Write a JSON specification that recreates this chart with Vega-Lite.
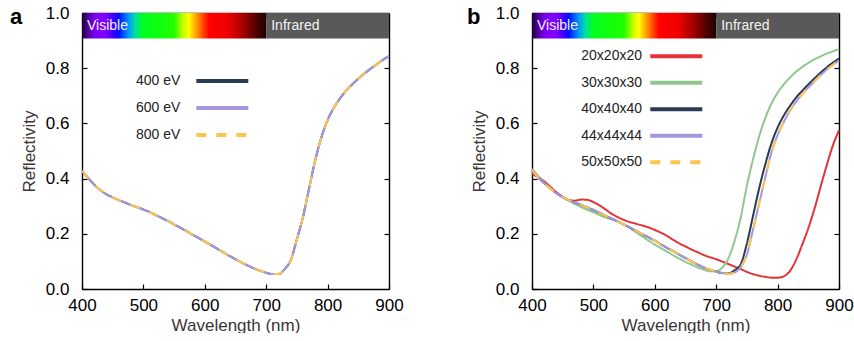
{
  "$schema": "https://vega.github.io/schema/vega-lite/v6.json",
  "background": "white",
  "padding": {"left": 10, "top": 4, "right": 0, "bottom": 0},
  "config": {
    "font": "Liberation Sans",
    "view": {"stroke": null},
    "axis": {"grid": false, "domainColor": "#000", "domainWidth": 1.4, "tickColor": "#000", "tickWidth": 1.2, "tickSize": -5, "labelFont": "Liberation Sans", "labelFontSize": 17, "labelColor": "#000", "titleFont": "Liberation Sans", "titleFontSize": 17, "titleFontWeight": "normal", "titleColor": "#3b3535", "zindex": 1}
  },
  "datasets": {
    "bands": [
      {"band": "Visible", "start": 400, "end": 700},
      {"band": "Infrared", "start": 700, "end": 900}
    ],
    "a": [
      {"wl": 400, "400 eV": 0.428, "600 eV": 0.428, "800 eV": 0.428},
      {"wl": 410, "400 eV": 0.402, "600 eV": 0.402, "800 eV": 0.402},
      {"wl": 420, "400 eV": 0.378, "600 eV": 0.378, "800 eV": 0.378},
      {"wl": 430, "400 eV": 0.358, "600 eV": 0.358, "800 eV": 0.358},
      {"wl": 440, "400 eV": 0.343, "600 eV": 0.343, "800 eV": 0.343},
      {"wl": 450, "400 eV": 0.332, "600 eV": 0.332, "800 eV": 0.332},
      {"wl": 460, "400 eV": 0.322, "600 eV": 0.322, "800 eV": 0.322},
      {"wl": 470, "400 eV": 0.313, "600 eV": 0.313, "800 eV": 0.313},
      {"wl": 480, "400 eV": 0.304, "600 eV": 0.304, "800 eV": 0.304},
      {"wl": 490, "400 eV": 0.296, "600 eV": 0.296, "800 eV": 0.296},
      {"wl": 500, "400 eV": 0.288, "600 eV": 0.288, "800 eV": 0.288},
      {"wl": 510, "400 eV": 0.279, "600 eV": 0.279, "800 eV": 0.279},
      {"wl": 520, "400 eV": 0.268, "600 eV": 0.268, "800 eV": 0.268},
      {"wl": 530, "400 eV": 0.257, "600 eV": 0.257, "800 eV": 0.257},
      {"wl": 540, "400 eV": 0.246, "600 eV": 0.246, "800 eV": 0.246},
      {"wl": 550, "400 eV": 0.234, "600 eV": 0.234, "800 eV": 0.234},
      {"wl": 560, "400 eV": 0.222, "600 eV": 0.222, "800 eV": 0.222},
      {"wl": 570, "400 eV": 0.210, "600 eV": 0.210, "800 eV": 0.210},
      {"wl": 580, "400 eV": 0.197, "600 eV": 0.197, "800 eV": 0.197},
      {"wl": 590, "400 eV": 0.185, "600 eV": 0.185, "800 eV": 0.185},
      {"wl": 600, "400 eV": 0.172, "600 eV": 0.172, "800 eV": 0.172},
      {"wl": 610, "400 eV": 0.159, "600 eV": 0.159, "800 eV": 0.159},
      {"wl": 620, "400 eV": 0.146, "600 eV": 0.146, "800 eV": 0.146},
      {"wl": 630, "400 eV": 0.133, "600 eV": 0.133, "800 eV": 0.133},
      {"wl": 640, "400 eV": 0.120, "600 eV": 0.120, "800 eV": 0.120},
      {"wl": 650, "400 eV": 0.108, "600 eV": 0.108, "800 eV": 0.108},
      {"wl": 660, "400 eV": 0.096, "600 eV": 0.096, "800 eV": 0.096},
      {"wl": 670, "400 eV": 0.085, "600 eV": 0.085, "800 eV": 0.085},
      {"wl": 680, "400 eV": 0.075, "600 eV": 0.075, "800 eV": 0.075},
      {"wl": 690, "400 eV": 0.066, "600 eV": 0.066, "800 eV": 0.066},
      {"wl": 700, "400 eV": 0.059, "600 eV": 0.059, "800 eV": 0.059},
      {"wl": 710, "400 eV": 0.054, "600 eV": 0.054, "800 eV": 0.054},
      {"wl": 720, "400 eV": 0.054, "600 eV": 0.054, "800 eV": 0.054},
      {"wl": 730, "400 eV": 0.072, "600 eV": 0.072, "800 eV": 0.072},
      {"wl": 740, "400 eV": 0.105, "600 eV": 0.105, "800 eV": 0.105},
      {"wl": 750, "400 eV": 0.180, "600 eV": 0.180, "800 eV": 0.180},
      {"wl": 760, "400 eV": 0.262, "600 eV": 0.262, "800 eV": 0.262},
      {"wl": 770, "400 eV": 0.366, "600 eV": 0.366, "800 eV": 0.366},
      {"wl": 780, "400 eV": 0.468, "600 eV": 0.468, "800 eV": 0.468},
      {"wl": 790, "400 eV": 0.550, "600 eV": 0.550, "800 eV": 0.550},
      {"wl": 800, "400 eV": 0.612, "600 eV": 0.612, "800 eV": 0.612},
      {"wl": 810, "400 eV": 0.656, "600 eV": 0.656, "800 eV": 0.656},
      {"wl": 820, "400 eV": 0.690, "600 eV": 0.690, "800 eV": 0.690},
      {"wl": 830, "400 eV": 0.718, "600 eV": 0.718, "800 eV": 0.718},
      {"wl": 840, "400 eV": 0.741, "600 eV": 0.741, "800 eV": 0.741},
      {"wl": 850, "400 eV": 0.762, "600 eV": 0.762, "800 eV": 0.762},
      {"wl": 860, "400 eV": 0.781, "600 eV": 0.781, "800 eV": 0.781},
      {"wl": 870, "400 eV": 0.798, "600 eV": 0.798, "800 eV": 0.798},
      {"wl": 880, "400 eV": 0.814, "600 eV": 0.814, "800 eV": 0.814},
      {"wl": 890, "400 eV": 0.830, "600 eV": 0.830, "800 eV": 0.830},
      {"wl": 900, "400 eV": 0.844, "600 eV": 0.844, "800 eV": 0.844}
    ],
    "b": [
      {"wl": 400, "20x20x20": 0.417, "30x30x30": 0.435, "40x40x40": 0.430, "44x44x44": 0.430, "50x50x50": 0.430},
      {"wl": 410, "20x20x20": 0.405, "30x30x30": 0.410, "40x40x40": 0.405, "44x44x44": 0.405, "50x50x50": 0.405},
      {"wl": 420, "20x20x20": 0.390, "30x30x30": 0.386, "40x40x40": 0.383, "44x44x44": 0.383, "50x50x50": 0.383},
      {"wl": 430, "20x20x20": 0.370, "30x30x30": 0.365, "40x40x40": 0.364, "44x44x44": 0.364, "50x50x50": 0.364},
      {"wl": 440, "20x20x20": 0.350, "30x30x30": 0.347, "40x40x40": 0.347, "44x44x44": 0.347, "50x50x50": 0.347},
      {"wl": 450, "20x20x20": 0.334, "30x30x30": 0.332, "40x40x40": 0.333, "44x44x44": 0.333, "50x50x50": 0.333},
      {"wl": 460, "20x20x20": 0.322, "30x30x30": 0.320, "40x40x40": 0.322, "44x44x44": 0.322, "50x50x50": 0.322},
      {"wl": 470, "20x20x20": 0.320, "30x30x30": 0.308, "40x40x40": 0.313, "44x44x44": 0.313, "50x50x50": 0.313},
      {"wl": 480, "20x20x20": 0.324, "30x30x30": 0.297, "40x40x40": 0.305, "44x44x44": 0.305, "50x50x50": 0.305},
      {"wl": 490, "20x20x20": 0.323, "30x30x30": 0.287, "40x40x40": 0.296, "44x44x44": 0.296, "50x50x50": 0.296},
      {"wl": 500, "20x20x20": 0.315, "30x30x30": 0.278, "40x40x40": 0.286, "44x44x44": 0.286, "50x50x50": 0.286},
      {"wl": 510, "20x20x20": 0.303, "30x30x30": 0.268, "40x40x40": 0.276, "44x44x44": 0.276, "50x50x50": 0.276},
      {"wl": 520, "20x20x20": 0.288, "30x30x30": 0.259, "40x40x40": 0.265, "44x44x44": 0.265, "50x50x50": 0.265},
      {"wl": 530, "20x20x20": 0.272, "30x30x30": 0.252, "40x40x40": 0.255, "44x44x44": 0.255, "50x50x50": 0.255},
      {"wl": 540, "20x20x20": 0.260, "30x30x30": 0.244, "40x40x40": 0.245, "44x44x44": 0.245, "50x50x50": 0.245},
      {"wl": 550, "20x20x20": 0.250, "30x30x30": 0.234, "40x40x40": 0.233, "44x44x44": 0.233, "50x50x50": 0.233},
      {"wl": 560, "20x20x20": 0.242, "30x30x30": 0.220, "40x40x40": 0.222, "44x44x44": 0.222, "50x50x50": 0.222},
      {"wl": 570, "20x20x20": 0.236, "30x30x30": 0.205, "40x40x40": 0.210, "44x44x44": 0.210, "50x50x50": 0.210},
      {"wl": 580, "20x20x20": 0.230, "30x30x30": 0.190, "40x40x40": 0.198, "44x44x44": 0.198, "50x50x50": 0.198},
      {"wl": 590, "20x20x20": 0.223, "30x30x30": 0.175, "40x40x40": 0.187, "44x44x44": 0.187, "50x50x50": 0.187},
      {"wl": 600, "20x20x20": 0.214, "30x30x30": 0.161, "40x40x40": 0.175, "44x44x44": 0.175, "50x50x50": 0.175},
      {"wl": 610, "20x20x20": 0.204, "30x30x30": 0.148, "40x40x40": 0.162, "44x44x44": 0.162, "50x50x50": 0.162},
      {"wl": 620, "20x20x20": 0.192, "30x30x30": 0.135, "40x40x40": 0.149, "44x44x44": 0.149, "50x50x50": 0.149},
      {"wl": 630, "20x20x20": 0.178, "30x30x30": 0.122, "40x40x40": 0.137, "44x44x44": 0.137, "50x50x50": 0.137},
      {"wl": 640, "20x20x20": 0.165, "30x30x30": 0.110, "40x40x40": 0.124, "44x44x44": 0.124, "50x50x50": 0.124},
      {"wl": 650, "20x20x20": 0.154, "30x30x30": 0.098, "40x40x40": 0.112, "44x44x44": 0.112, "50x50x50": 0.112},
      {"wl": 660, "20x20x20": 0.143, "30x30x30": 0.088, "40x40x40": 0.100, "44x44x44": 0.100, "50x50x50": 0.100},
      {"wl": 670, "20x20x20": 0.133, "30x30x30": 0.078, "40x40x40": 0.088, "44x44x44": 0.088, "50x50x50": 0.088},
      {"wl": 680, "20x20x20": 0.123, "30x30x30": 0.070, "40x40x40": 0.078, "44x44x44": 0.078, "50x50x50": 0.078},
      {"wl": 690, "20x20x20": 0.115, "30x30x30": 0.064, "40x40x40": 0.070, "44x44x44": 0.070, "50x50x50": 0.070},
      {"wl": 700, "20x20x20": 0.108, "30x30x30": 0.065, "40x40x40": 0.063, "44x44x44": 0.063, "50x50x50": 0.063},
      {"wl": 710, "20x20x20": 0.099, "30x30x30": 0.078, "40x40x40": 0.058, "44x44x44": 0.058, "50x50x50": 0.058},
      {"wl": 720, "20x20x20": 0.090, "30x30x30": 0.112, "40x40x40": 0.057, "44x44x44": 0.055, "50x50x50": 0.055},
      {"wl": 730, "20x20x20": 0.081, "30x30x30": 0.175, "40x40x40": 0.068, "44x44x44": 0.060, "50x50x50": 0.060},
      {"wl": 740, "20x20x20": 0.072, "30x30x30": 0.260, "40x40x40": 0.090, "44x44x44": 0.080, "50x50x50": 0.080},
      {"wl": 750, "20x20x20": 0.062, "30x30x30": 0.375, "40x40x40": 0.165, "44x44x44": 0.125, "50x50x50": 0.125},
      {"wl": 760, "20x20x20": 0.054, "30x30x30": 0.470, "40x40x40": 0.265, "44x44x44": 0.215, "50x50x50": 0.215},
      {"wl": 770, "20x20x20": 0.048, "30x30x30": 0.553, "40x40x40": 0.365, "44x44x44": 0.310, "50x50x50": 0.310},
      {"wl": 780, "20x20x20": 0.044, "30x30x30": 0.620, "40x40x40": 0.452, "44x44x44": 0.405, "50x50x50": 0.405},
      {"wl": 790, "20x20x20": 0.041, "30x30x30": 0.672, "40x40x40": 0.528, "44x44x44": 0.495, "50x50x50": 0.495},
      {"wl": 800, "20x20x20": 0.041, "30x30x30": 0.711, "40x40x40": 0.585, "44x44x44": 0.558, "50x50x50": 0.558},
      {"wl": 810, "20x20x20": 0.046, "30x30x30": 0.741, "40x40x40": 0.628, "44x44x44": 0.605, "50x50x50": 0.605},
      {"wl": 820, "20x20x20": 0.065, "30x30x30": 0.766, "40x40x40": 0.663, "44x44x44": 0.645, "50x50x50": 0.645},
      {"wl": 830, "20x20x20": 0.105, "30x30x30": 0.787, "40x40x40": 0.693, "44x44x44": 0.678, "50x50x50": 0.678},
      {"wl": 840, "20x20x20": 0.160, "30x30x30": 0.804, "40x40x40": 0.718, "44x44x44": 0.706, "50x50x50": 0.706},
      {"wl": 850, "20x20x20": 0.220, "30x30x30": 0.819, "40x40x40": 0.741, "44x44x44": 0.730, "50x50x50": 0.730},
      {"wl": 860, "20x20x20": 0.290, "30x30x30": 0.832, "40x40x40": 0.763, "44x44x44": 0.752, "50x50x50": 0.752},
      {"wl": 870, "20x20x20": 0.370, "30x30x30": 0.843, "40x40x40": 0.784, "44x44x44": 0.775, "50x50x50": 0.775},
      {"wl": 880, "20x20x20": 0.448, "30x30x30": 0.853, "40x40x40": 0.803, "44x44x44": 0.795, "50x50x50": 0.795},
      {"wl": 890, "20x20x20": 0.520, "30x30x30": 0.861, "40x40x40": 0.820, "44x44x44": 0.812, "50x50x50": 0.812},
      {"wl": 900, "20x20x20": 0.575, "30x30x30": 0.869, "40x40x40": 0.835, "44x44x44": 0.828, "50x50x50": 0.828}
    ]
  },
  "spacing": 143,
  "bounds": "flush",
  "resolve": {"scale": {"color": "independent", "strokeDash": "independent"}, "legend": {"color": "independent", "strokeDash": "independent"}},
  "hconcat": [
    {
      "title": {"text": "a", "anchor": "start", "frame": "group", "fontSize": 22, "fontWeight": "bold", "font": "Liberation Sans", "color": "#000", "dx": -72, "offset": -42, "baseline": "alphabetic"},
      "width": 307,
      "height": 276,
      "resolve": {"axis": {"x": "independent", "y": "independent"}},
      "layer": [
        {
          "data": {"name": "bands"},
          "transform": [{"filter": "datum.band === 'Visible'"}],
          "mark": {"type": "rect", "color": {"gradient": "linear", "x1": 0, "y1": 0, "x2": 1, "y2": 0, "stops": [
            {"offset": 0, "color": "#1a0033"}, {"offset": 0.03, "color": "#4b0096"}, {"offset": 0.07, "color": "#7a00f0"},
            {"offset": 0.13, "color": "#8000ff"}, {"offset": 0.17, "color": "#3c00ff"}, {"offset": 0.2, "color": "#0010ff"},
            {"offset": 0.25, "color": "#0090ff"}, {"offset": 0.29, "color": "#00e0a0"}, {"offset": 0.33, "color": "#00ff20"},
            {"offset": 0.5, "color": "#20ff00"}, {"offset": 0.55, "color": "#c8ff00"}, {"offset": 0.58, "color": "#ffff00"},
            {"offset": 0.62, "color": "#ffa000"}, {"offset": 0.66, "color": "#ff4000"}, {"offset": 0.69, "color": "#ff0000"},
            {"offset": 0.79, "color": "#f00000"}, {"offset": 0.88, "color": "#a00000"}, {"offset": 0.96, "color": "#400000"},
            {"offset": 1, "color": "#200000"}]}},
          "encoding": {
            "x": {"field": "start", "type": "quantitative", "scale": {"domain": [400, 900], "nice": false}, "axis": {"orient": "top", "values": [500, 600, 700, 800], "labels": false, "title": null}},
            "x2": {"field": "end"},
            "y": {"datum": 0.908, "type": "quantitative", "scale": {"domain": [0, 1], "nice": false}, "axis": {"orient": "right", "values": [0.2, 0.4, 0.6, 0.8], "labels": false, "title": null}},
            "y2": {"datum": 1}
          }
        },
        {
          "data": {"name": "bands"},
          "transform": [{"filter": "datum.band === 'Infrared'"}],
          "mark": {"type": "rect", "color": "#595959"},
          "encoding": {
            "x": {"field": "start", "type": "quantitative", "scale": {"domain": [400, 900], "nice": false}, "axis": null},
            "x2": {"field": "end"},
            "y": {"datum": 0.908, "type": "quantitative", "scale": {"domain": [0, 1], "nice": false}, "axis": null},
            "y2": {"datum": 1}
          }
        },
        {
          "data": {"name": "bands"},
          "mark": {"type": "text", "align": "left", "baseline": "middle", "dx": 5, "fontSize": 14, "color": "#f2f2f2", "font": "Liberation Sans"},
          "encoding": {
            "x": {"field": "start", "type": "quantitative", "scale": {"domain": [400, 900], "nice": false}, "axis": null},
            "y": {"datum": 0.952, "type": "quantitative", "scale": {"domain": [0, 1], "nice": false}, "axis": null},
            "text": {"field": "band"}
          }
        },
        {
          "data": {"name": "a"},
          "transform": [{"fold": ["400 eV", "600 eV", "800 eV"], "as": ["series", "R"]}],
          "mark": {"type": "line", "strokeWidth": 2, "interpolate": "monotone"},
          "encoding": {
            "x": {"field": "wl", "type": "quantitative", "scale": {"domain": [400, 900], "nice": false}, "axis": {"values": [400, 500, 600, 700, 800, 900], "title": "Wavelength (nm)", "labelPadding": 13, "titlePadding": 4, "labelFlush": false}},
            "y": {"field": "R", "type": "quantitative", "scale": {"domain": [0, 1], "nice": false}, "axis": {"values": [0, 0.2, 0.4, 0.6, 0.8, 1], "format": ".1f", "title": "Reflectivity", "labelPadding": 18, "titlePadding": 7}},
            "color": {"field": "series", "type": "nominal", "scale": {"domain": ["400 eV", "600 eV", "800 eV"], "range": ["#2b3b52", "#a697dd", "#ffc44f"]},
              "legend": {"orient": "none", "legendX": 133.3, "legendY": 61, "title": null, "symbolType": "M-5.2,0H5.2", "symbolSize": 100, "symbolStrokeWidth": 4, "labelAlign": "right", "labelOffset": -49, "labelFontSize": 14, "labelColor": "#222", "labelFont": "Liberation Sans", "rowPadding": 11, "padding": 0}},
            "strokeDash": {"field": "series", "type": "nominal", "scale": {"domain": ["400 eV", "600 eV", "800 eV"], "range": [[1, 0], [1, 0], [10, 10]]},
              "legend": {"orient": "none", "legendX": 133.3, "legendY": 61, "title": null, "symbolType": "M-5.2,0H5.2", "symbolSize": 100, "symbolStrokeWidth": 4, "labelAlign": "right", "labelOffset": -49, "labelFontSize": 14, "labelColor": "#222", "labelFont": "Liberation Sans", "rowPadding": 11, "padding": 0}}
          }
        }
      ]
    },
    {
      "title": {"text": "b", "anchor": "start", "frame": "group", "fontSize": 22, "fontWeight": "bold", "font": "Liberation Sans", "color": "#000", "dx": -65, "offset": -42, "baseline": "alphabetic"},
      "width": 307,
      "height": 276,
      "resolve": {"axis": {"x": "independent", "y": "independent"}},
      "layer": [
        {
          "data": {"name": "bands"},
          "transform": [{"filter": "datum.band === 'Visible'"}],
          "mark": {"type": "rect", "color": {"gradient": "linear", "x1": 0, "y1": 0, "x2": 1, "y2": 0, "stops": [
            {"offset": 0, "color": "#1a0033"}, {"offset": 0.03, "color": "#4b0096"}, {"offset": 0.07, "color": "#7a00f0"},
            {"offset": 0.13, "color": "#8000ff"}, {"offset": 0.17, "color": "#3c00ff"}, {"offset": 0.2, "color": "#0010ff"},
            {"offset": 0.25, "color": "#0090ff"}, {"offset": 0.29, "color": "#00e0a0"}, {"offset": 0.33, "color": "#00ff20"},
            {"offset": 0.5, "color": "#20ff00"}, {"offset": 0.55, "color": "#c8ff00"}, {"offset": 0.58, "color": "#ffff00"},
            {"offset": 0.62, "color": "#ffa000"}, {"offset": 0.66, "color": "#ff4000"}, {"offset": 0.69, "color": "#ff0000"},
            {"offset": 0.79, "color": "#f00000"}, {"offset": 0.88, "color": "#a00000"}, {"offset": 0.96, "color": "#400000"},
            {"offset": 1, "color": "#200000"}]}},
          "encoding": {
            "x": {"field": "start", "type": "quantitative", "scale": {"domain": [400, 900], "nice": false}, "axis": {"orient": "top", "values": [500, 600, 700, 800], "labels": false, "title": null}},
            "x2": {"field": "end"},
            "y": {"datum": 0.908, "type": "quantitative", "scale": {"domain": [0, 1], "nice": false}, "axis": {"orient": "right", "values": [0.2, 0.4, 0.6, 0.8], "labels": false, "title": null}},
            "y2": {"datum": 1}
          }
        },
        {
          "data": {"name": "bands"},
          "transform": [{"filter": "datum.band === 'Infrared'"}],
          "mark": {"type": "rect", "color": "#595959"},
          "encoding": {
            "x": {"field": "start", "type": "quantitative", "scale": {"domain": [400, 900], "nice": false}, "axis": null},
            "x2": {"field": "end"},
            "y": {"datum": 0.908, "type": "quantitative", "scale": {"domain": [0, 1], "nice": false}, "axis": null},
            "y2": {"datum": 1}
          }
        },
        {
          "data": {"name": "bands"},
          "mark": {"type": "text", "align": "left", "baseline": "middle", "dx": 5, "fontSize": 14, "color": "#f2f2f2", "font": "Liberation Sans"},
          "encoding": {
            "x": {"field": "start", "type": "quantitative", "scale": {"domain": [400, 900], "nice": false}, "axis": null},
            "y": {"datum": 0.952, "type": "quantitative", "scale": {"domain": [0, 1], "nice": false}, "axis": null},
            "text": {"field": "band"}
          }
        },
        {
          "data": {"name": "b"},
          "transform": [{"fold": ["20x20x20", "30x30x30", "40x40x40", "44x44x44", "50x50x50"], "as": ["series", "R"]}],
          "mark": {"type": "line", "strokeWidth": 2, "interpolate": "monotone"},
          "encoding": {
            "x": {"field": "wl", "type": "quantitative", "scale": {"domain": [400, 900], "nice": false}, "axis": {"values": [400, 500, 600, 700, 800, 900], "title": "Wavelength (nm)", "labelPadding": 13, "titlePadding": 4, "labelFlush": false}},
            "y": {"field": "R", "type": "quantitative", "scale": {"domain": [0, 1], "nice": false}, "axis": {"values": [0, 0.2, 0.4, 0.6, 0.8, 1], "format": ".1f", "title": "Reflectivity", "labelPadding": 18, "titlePadding": 7}},
            "color": {"field": "series", "type": "nominal", "scale": {"domain": ["20x20x20", "30x30x30", "40x40x40", "44x44x44", "50x50x50"], "range": ["#e53238", "#8fc78f", "#2b3b52", "#a697dd", "#ffc44f"]},
              "legend": {"orient": "none", "legendX": 137.3, "legendY": 36.3, "title": null, "symbolType": "M-5.2,0H5.2", "symbolSize": 100, "symbolStrokeWidth": 4, "labelAlign": "right", "labelOffset": -41.3, "labelFontSize": 14, "labelColor": "#222", "labelFont": "Liberation Sans", "rowPadding": 10.5, "padding": 0}},
            "strokeDash": {"field": "series", "type": "nominal", "scale": {"domain": ["20x20x20", "30x30x30", "40x40x40", "44x44x44", "50x50x50"], "range": [[1, 0], [1, 0], [1, 0], [1, 0], [10, 10]]},
              "legend": {"orient": "none", "legendX": 137.3, "legendY": 36.3, "title": null, "symbolType": "M-5.2,0H5.2", "symbolSize": 100, "symbolStrokeWidth": 4, "labelAlign": "right", "labelOffset": -41.3, "labelFontSize": 14, "labelColor": "#222", "labelFont": "Liberation Sans", "rowPadding": 10.5, "padding": 0}}
          }
        }
      ]
    }
  ]
}
